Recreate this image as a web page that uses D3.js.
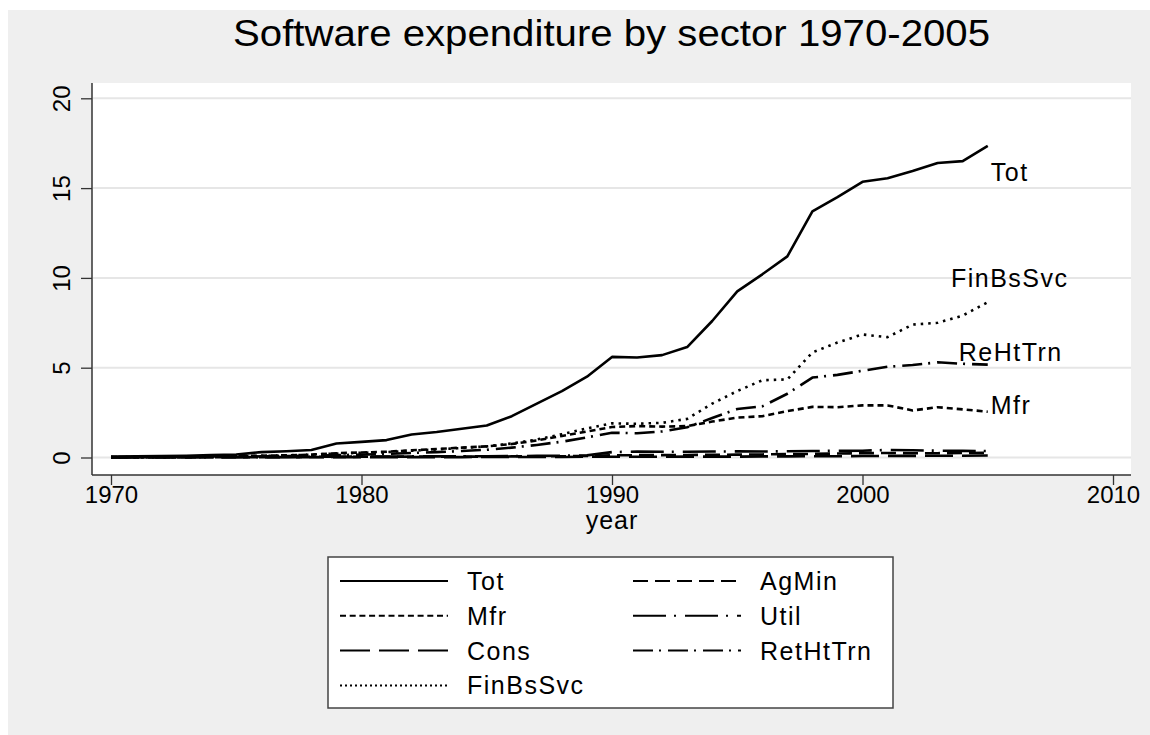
<!DOCTYPE html>
<html>
<head>
<meta charset="utf-8">
<script src="https://cdn.jsdelivr.net/npm/d3@7"></script>
<style>
  body { margin: 0; background: #ffffff; }
  text { font-family: "Liberation Sans", Arial, sans-serif; fill: #000; }
</style>
</head>
<body>
<div id="chart"></div>
<script>
// years on the x axis
const years = [1970, 1971, 1972, 1973, 1974, 1975, 1976, 1977, 1978, 1979,
  1980, 1981, 1982, 1983, 1984, 1985, 1986, 1987, 1988, 1989,
  1990, 1991, 1992, 1993, 1994, 1995, 1996, 1997, 1998, 1999,
  2000, 2001, 2002, 2003, 2004, 2005];

// values
const tot = [0.05, 0.06, 0.08, 0.10, 0.13, 0.17, 0.30, 0.35, 0.42, 0.78,
  0.87, 0.97, 1.28, 1.42, 1.60, 1.78, 2.30, 3.00, 3.70, 4.50,
  5.60, 5.57, 5.70, 6.15, 7.60, 9.25, 10.2, 11.2, 13.7, 14.5,
  15.35, 15.55, 15.95, 16.4, 16.5, 17.35];
const agMin = [0.01, 0.01, 0.01, 0.01, 0.01, 0.02, 0.02, 0.02, 0.03, 0.03,
  0.04, 0.04, 0.05, 0.05, 0.05, 0.05, 0.06, 0.06, 0.07, 0.08,
  0.12, 0.13, 0.13, 0.14, 0.15, 0.16, 0.17, 0.19, 0.20, 0.22,
  0.24, 0.25, 0.24, 0.24, 0.25, 0.26];
const mfr = [0.03, 0.03, 0.04, 0.05, 0.06, 0.08, 0.10, 0.12, 0.16, 0.24,
  0.28, 0.32, 0.40, 0.47, 0.55, 0.62, 0.75, 0.95, 1.20, 1.45,
  1.70, 1.75, 1.72, 1.75, 2.00, 2.22, 2.30, 2.58, 2.82, 2.80,
  2.90, 2.90, 2.62, 2.80, 2.68, 2.55];
const util = [0.01, 0.01, 0.01, 0.02, 0.02, 0.02, 0.03, 0.03, 0.04, 0.04,
  0.05, 0.05, 0.06, 0.06, 0.07, 0.07, 0.08, 0.09, 0.10, 0.12,
  0.30, 0.33, 0.32, 0.32, 0.33, 0.34, 0.33, 0.35, 0.36, 0.37,
  0.38, 0.42, 0.40, 0.38, 0.37, 0.36];
const cons = [0.00, 0.00, 0.00, 0.00, 0.01, 0.01, 0.01, 0.01, 0.01, 0.01,
  0.02, 0.02, 0.02, 0.02, 0.02, 0.03, 0.03, 0.03, 0.03, 0.04,
  0.04, 0.04, 0.04, 0.05, 0.05, 0.05, 0.06, 0.06, 0.07, 0.07,
  0.08, 0.09, 0.09, 0.10, 0.10, 0.11];
const retHtTrn = [0.01, 0.01, 0.02, 0.03, 0.04, 0.05, 0.06, 0.08, 0.10, 0.13,
  0.16, 0.20, 0.25, 0.30, 0.36, 0.43, 0.55, 0.70, 0.88, 1.12,
  1.38, 1.35, 1.45, 1.68, 2.20, 2.70, 2.85, 3.55, 4.45, 4.60,
  4.83, 5.05, 5.15, 5.30, 5.22, 5.17];
const finBsSvc = [0.02, 0.02, 0.03, 0.04, 0.05, 0.07, 0.09, 0.12, 0.16, 0.22,
  0.26, 0.30, 0.38, 0.45, 0.53, 0.62, 0.78, 1.00, 1.30, 1.62,
  1.90, 1.88, 1.93, 2.15, 3.00, 3.70, 4.30, 4.35, 5.85, 6.40,
  6.85, 6.70, 7.40, 7.50, 7.90, 8.65];

// legend order (row by row, two columns)
const seriesNames = ["Tot", "AgMin", "Mfr", "Util", "Cons", "RetHtTrn", "FinBsSvc"];
const seriesValues = [tot, agMin, mfr, util, cons, retHtTrn, finBsSvc];

// series that get a label at their last point
const labelled = ["Tot", "FinBsSvc", "ReHtTrn", "Mfr"];
const labelSeries = ["Tot", "FinBsSvc", "RetHtTrn", "Mfr"];

const xTicks = [1970, 1980, 1990, 2000, 2010];
const yTicks = [0, 5, 10, 15, 20];

// styles
const dashes = {
  Tot: null,
  AgMin: "15,7",
  Mfr: "6,4",
  Util: "33,8,2,9",
  Cons: "28,9",
  RetHtTrn: "20,6,2,7",
  FinBsSvc: "2.5,5"
};
const legendDashes = {
  Tot: null,
  AgMin: "15,7",
  Mfr: "6,3.7",
  Util: "33,8,2,9",
  Cons: "30,9",
  RetHtTrn: "20,6,2,7",
  FinBsSvc: "2,3"
};
// label offsets from the last point (dx, dy, anchor)
const labelPos = {
  Tot: [3, 35, "start"],
  FinBsSvc: [22, -15, "middle"],
  RetHtTrn: [23, -4, "middle"],
  Mfr: [3, 2, "start"]
};

const W = 1150, H = 735;
const plot = { left: 92, right: 1131, top: 83, bottom: 475 };

const svg = d3.select("#chart").append("svg")
  .attr("width", W)
  .attr("height", H);

// grey background
svg.append("rect")
  .attr("x", 8).attr("y", 10)
  .attr("width", W - 8).attr("height", H - 10)
  .attr("fill", "#efefef");

// plot region
svg.append("rect")
  .attr("x", plot.left).attr("y", plot.top)
  .attr("width", plot.right - plot.left).attr("height", plot.bottom - plot.top)
  .attr("fill", "#ffffff");

const x = d3.scaleLinear().domain([1970, 2010]).range([111, 1113]);
const y = d3.scaleLinear().domain([0, 20]).range([457.5, 98.3]);

// grid
svg.append("g")
  .selectAll("line")
  .data(yTicks)
  .enter().append("line")
  .attr("x1", plot.left + 1).attr("x2", plot.right)
  .attr("y1", d => y(d)).attr("y2", d => y(d))
  .attr("stroke", "#e6e6e6")
  .attr("stroke-width", 2);

// y axis
const yAxis = svg.append("g")
  .attr("transform", `translate(${plot.left}, 0)`)
  .call(d3.axisLeft(y).tickValues(yTicks).tickSize(11));
yAxis.select(".domain").remove();
yAxis.selectAll(".tick line").attr("stroke", "#333").attr("stroke-width", 1.3);
yAxis.selectAll(".tick text")
  .attr("font-size", 24)
  .attr("font-family", "Liberation Sans, Arial, sans-serif")
  .attr("text-anchor", "middle")
  .attr("x", 0)
  .attr("y", 0)
  .attr("dy", 0)
  .attr("transform", "translate(-31, 0) rotate(-90)")
  .style("dominant-baseline", "central");

// x axis
const xAxis = svg.append("g")
  .attr("transform", `translate(0, ${plot.bottom})`)
  .call(d3.axisBottom(x).tickValues(xTicks).tickFormat(d3.format("d")).tickSize(10).tickPadding(1));
xAxis.select(".domain").remove();
xAxis.selectAll(".tick line").attr("stroke", "#333").attr("stroke-width", 1.3);
xAxis.selectAll(".tick text")
  .attr("font-size", 24)
  .attr("font-family", "Liberation Sans, Arial, sans-serif");

// axis lines
svg.append("line")
  .attr("x1", plot.left).attr("x2", plot.left)
  .attr("y1", plot.top).attr("y2", plot.bottom)
  .attr("stroke", "#333").attr("stroke-width", 1.5);
svg.append("line")
  .attr("x1", plot.left).attr("x2", plot.right)
  .attr("y1", plot.bottom).attr("y2", plot.bottom)
  .attr("stroke", "#333").attr("stroke-width", 1.5);

// series lines
const line = d3.line()
  .x((d, i) => x(years[i]))
  .y(d => y(d));

svg.append("g")
  .selectAll("path")
  .data(seriesNames)
  .enter().append("path")
  .attr("d", (d, i) => line(seriesValues[i]))
  .attr("fill", "none")
  .attr("stroke", "#000")
  .attr("stroke-width", 2.6)
  .attr("stroke-linejoin", "round")
  .attr("stroke-dasharray", d => dashes[d]);

// labels at the last point
svg.append("g")
  .selectAll("text")
  .data(labelSeries)
  .enter().append("text")
  .attr("x", d => x(years[years.length - 1]) + labelPos[d][0])
  .attr("y", d => y(seriesValues[seriesNames.indexOf(d)][years.length - 1]) + labelPos[d][1])
  .attr("text-anchor", d => labelPos[d][2])
  .attr("font-size", 25)
  .attr("letter-spacing", 1.5)
  .text((d, i) => labelled[i]);

// title
svg.append("text")
  .attr("x", (plot.left + plot.right) / 2)
  .attr("y", 46)
  .attr("text-anchor", "middle")
  .attr("font-size", 37)
  .attr("textLength", 757)
  .attr("lengthAdjust", "spacingAndGlyphs")
  .text("Software expenditure by sector 1970-2005");

// x title
svg.append("text")
  .attr("x", x(1990))
  .attr("y", 529)
  .attr("text-anchor", "middle")
  .attr("font-size", 25)
  .attr("letter-spacing", 1)
  .text("year");

// legend
const legend = svg.append("g");
legend.append("rect")
  .attr("x", 328).attr("y", 557)
  .attr("width", 565).attr("height", 151)
  .attr("fill", "#ffffff")
  .attr("stroke", "#444")
  .attr("stroke-width", 1.5);

const items = legend.selectAll(".legend")
  .data(seriesNames)
  .enter().append("g")
  .attr("class", "legend")
  .attr("transform", (d, i) => `translate(${340 + (i % 2) * 293}, ${581 + Math.floor(i / 2) * 34.8})`);

items.append("line")
  .attr("x1", 0).attr("x2", 108)
  .attr("y1", 0).attr("y2", 0)
  .attr("stroke", "#000")
  .attr("stroke-width", 2)
  .attr("stroke-dasharray", d => legendDashes[d]);

items.append("text")
  .attr("x", 127)
  .attr("y", 9)
  .attr("font-size", 25)
  .attr("letter-spacing", 1.5)
  .text(d => d);
</script>
</body>
</html>
